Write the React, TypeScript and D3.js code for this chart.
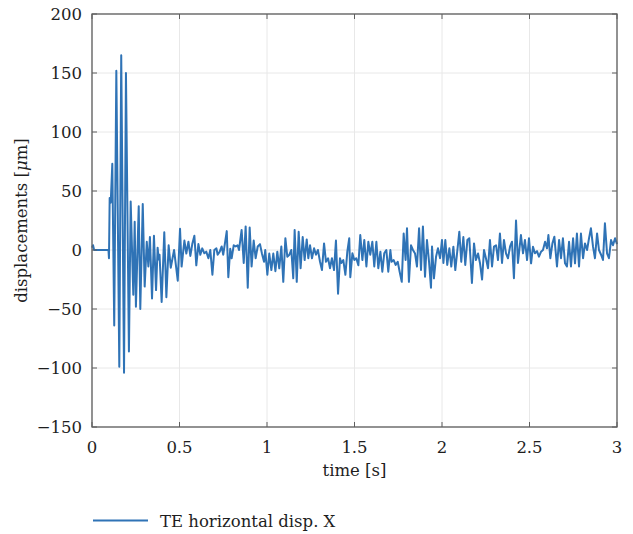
import React from "react";
import * as d3 from "d3";

// time [s]
const times: number[] = [
  0, 0.006, 0.012, 0.094, 0.097, 0.101, 0.107, 0.116, 0.127, 0.139, 0.156, 0.167, 0.183, 0.194, 0.211,
  0.221, 0.236, 0.244, 0.251, 0.267, 0.276, 0.29, 0.301, 0.313, 0.322, 0.331, 0.343, 0.354, 0.366,
  0.375, 0.381, 0.386, 0.398, 0.413, 0.425, 0.438, 0.45, 0.469, 0.49, 0.503,
  0.512, 0.528, 0.539, 0.551, 0.562, 0.573, 0.585, 0.596, 0.608, 0.619, 0.63, 0.642, 0.653, 0.665,
  0.676, 0.688, 0.699, 0.711, 0.718, 0.73, 0.741, 0.75, 0.76, 0.77, 0.779, 0.79, 0.798, 0.81, 0.821,
  0.832, 0.84, 0.855, 0.867, 0.878, 0.89, 0.901, 0.912, 0.924, 0.935, 0.947,
  0.96, 0.971, 0.983, 0.99, 1.002, 1.013, 1.025, 1.036, 1.048, 1.059, 1.07, 1.082, 1.093, 1.105,
  1.116, 1.128, 1.139, 1.15, 1.158, 1.17, 1.181, 1.192, 1.204, 1.215, 1.227, 1.236, 1.246, 1.257,
  1.269, 1.28, 1.291, 1.303, 1.314, 1.326, 1.337, 1.349, 1.36, 1.371, 1.383, 1.394, 1.406, 1.417,
  1.425, 1.436, 1.448, 1.459, 1.47,
  1.476, 1.488, 1.499, 1.51, 1.522, 1.533, 1.545, 1.556, 1.568, 1.579, 1.59, 1.602, 1.613, 1.625,
  1.636, 1.648, 1.659, 1.67, 1.682, 1.693, 1.705, 1.712, 1.724, 1.735, 1.747, 1.758, 1.77, 1.781,
  1.792, 1.8, 1.811, 1.823, 1.834, 1.846, 1.857, 1.869, 1.88, 1.891, 1.903, 1.914, 1.926, 1.937,
  1.943, 1.954, 1.966, 1.977, 1.989, 2.0, 2.008, 2.019, 2.03, 2.042, 2.053, 2.065, 2.076, 2.088,
  2.099, 2.11, 2.122, 2.133, 2.145, 2.156, 2.171, 2.183, 2.194, 2.206, 2.217, 2.229, 2.24, 2.251,
  2.263, 2.274, 2.286, 2.297, 2.309, 2.32, 2.331, 2.343, 2.354, 2.366, 2.377, 2.389, 2.4, 2.411,
  2.423, 2.434,
  2.451, 2.463, 2.474, 2.486, 2.497, 2.509, 2.52, 2.531, 2.543, 2.554, 2.566, 2.577, 2.589, 2.6,
  2.608, 2.619, 2.631, 2.642, 2.657, 2.669, 2.68, 2.691, 2.703, 2.714, 2.726, 2.737, 2.749, 2.76,
  2.771, 2.783, 2.794, 2.806, 2.817, 2.829, 2.84, 2.851, 2.863, 2.874, 2.886, 2.897, 2.909, 2.92,
  2.931, 2.943, 2.954, 2.966, 2.977, 2.989, 3.0,
];

// displacement [μm]
const displacements: number[] = [
  2, 4, 0, 0, -7, 44, 40, 73, -64, 152, -99, 165, -104, 150, -86,
  41, -38, 24, -48, 37, -50, 39, -31, 7, -14, 11, -41, 12, -34,
  2, -8, -4, -44, 15, -40, 4, -15, 0, -26, 18,
  -14, 8, -3, 7, -5, 5, 12, -13, 5, -4, 1.4, -2.8, -1.4, -7,
  0, -21, 0, 1.4, -4, -1.4, 3, -4, 6, 16, -23, 1, -7, 4, 3,
  4, 0, 17, -11, 20, -32, 19, -14, 8, -7, 3,
  5, -3, -10, 0, -21, -3, -17, -3, -18, -1.4, -15.5, 3, -27, 10,
  -5.7, -4, 0, -24, 17, -27, 15.5, -15.5, 11, -8.5, 9, -7, 4, -7,
  1.4, -4, 0, -10, -17, 5.6, -10, -7, -15.5, -7, -17, 8, -37, -7,
  -11, -8.5, -21, -1.4, 10,
  -23, -2.8, -8.5, -7, -13, 12.7, -8.5, 8.5, -14, 7, -4, 7, -14, 7,
  -15.5, -1.4, -18.4, -2.8, 0, -18.4, 0, -10, -8.5, -12.7, -10, -18.4, -27, 14,
  -8.5, 18.4, -27, 4, 0, -3, -14, 18.4, -17, 20, -22.6, 8.5, -10, -32,
  3, -24, -5.7, 1.4, -7, 8.5, -11, 8.5, -12.7, 1.4, -14, 2.8, -17, 0,
  15.5, -10, 11, -12.7, 8.5, 10, -28, 5.6, -8.5, -3, -11, -25, 0, -7,
  -15.5, 8.5, -14, 2.8, 4, -8.5, 14, -11, 8.5, -3, -7, 3, 7, -24,
  25, -11,
  12.7, -2.8, 8.5, -8.5, 9.9, -11.3, 2.8, -2.8, -1, -5.7, -1.4, 0, 7, 1.4,
  12.7, -7, 5.6, 11.3, -14, 8.5, -7, 9.9, -11.3, -14, 7, -14, 9.9, -11.3,
  14, -14, 14, -7, 5.6, 0, 9.9, 18.4, 2.8, -7, 14, 0, -4, -8.5,
  22.6, -2.8, -7, 8.5, 4, 10, 5,
];

const xTicks: number[] = [0, 0.5, 1, 1.5, 2, 2.5, 3];
const yTicks: number[] = [-150, -100, -50, 0, 50, 100, 150, 200];
const seriesName = "TE horizontal disp. X";

const W = 633;
const H = 534;
const M = { left: 92, right: 617, top: 14, bottom: 427 };
const FONT = "'DejaVu Serif', 'Liberation Serif', serif";
const FS = 16.5;
const LINE = "#2f73b6";
const AXIS = "#5e5e5e";
const GRID = "#e8e8e8";
const TXT = "#1e1e1e";

function fmt(v: number): string {
  const s = String(v);
  return v < 0 ? "\u2212" + s.slice(1) : s;
}

export default function App() {
  const x = d3.scaleLinear().domain([0, 3]).range([M.left, M.right]);
  const y = d3.scaleLinear().domain([-150, 200]).range([M.bottom, M.top]);
  const data = times.map((t, i) => [t, displacements[i]] as [number, number]);
  const line = d3
    .line<[number, number]>()
    .x((d) => x(d[0]))
    .y((d) => y(d[1]));
  const tl = 5;
  return (
    <svg
      width={W}
      height={H}
      style={{ position: "absolute", left: 0, top: 0, background: "#fff" }}
      fontFamily={FONT}
    >
      <rect x={0} y={0} width={W} height={H} fill="#fff" />
      {xTicks.map((t) => (
        <line key={"gx" + t} x1={x(t)} x2={x(t)} y1={M.top} y2={M.bottom} stroke={GRID} strokeWidth={1} />
      ))}
      {yTicks.map((t) => (
        <line key={"gy" + t} x1={M.left} x2={M.right} y1={y(t)} y2={y(t)} stroke={GRID} strokeWidth={1} />
      ))}
      <path d={line(data) || ""} fill="none" stroke={LINE} strokeWidth={2} strokeLinejoin="round" />
      <rect
        x={M.left}
        y={M.top}
        width={M.right - M.left}
        height={M.bottom - M.top}
        fill="none"
        stroke={AXIS}
        strokeWidth={1.3}
      />
      {xTicks.map((t) => (
        <g key={"tx" + t}>
          <line x1={x(t)} x2={x(t)} y1={M.bottom} y2={M.bottom - tl} stroke={AXIS} />
          <line x1={x(t)} x2={x(t)} y1={M.top} y2={M.top + tl} stroke={AXIS} />
          <text x={x(t)} y={453} textAnchor="middle" fontSize={FS} fill={TXT}>
            {fmt(t)}
          </text>
        </g>
      ))}
      {yTicks.map((t) => (
        <g key={"ty" + t}>
          <line x1={M.left} x2={M.left + tl} y1={y(t)} y2={y(t)} stroke={AXIS} />
          <line x1={M.right} x2={M.right - tl} y1={y(t)} y2={y(t)} stroke={AXIS} />
          <text x={82} y={y(t) + 6} textAnchor="end" fontSize={FS} fill={TXT}>
            {fmt(t)}
          </text>
        </g>
      ))}
      <text x={(M.left + M.right) / 2} y={476} textAnchor="middle" fontSize={FS} fill={TXT}>
        time [s]
      </text>
      <text
        transform={`translate(27, ${(M.top + M.bottom) / 2}) rotate(-90)`}
        textAnchor="middle"
        fontSize={FS}
        fill={TXT}
      >
        displacements [<tspan fontStyle="italic">μ</tspan>m]
      </text>
      <line x1={93} x2={148} y1={520.5} y2={520.5} stroke={LINE} strokeWidth={2} />
      <text x={160} y={527} fontSize={FS} fill={TXT}>
        {seriesName}
      </text>
    </svg>
  );
}
